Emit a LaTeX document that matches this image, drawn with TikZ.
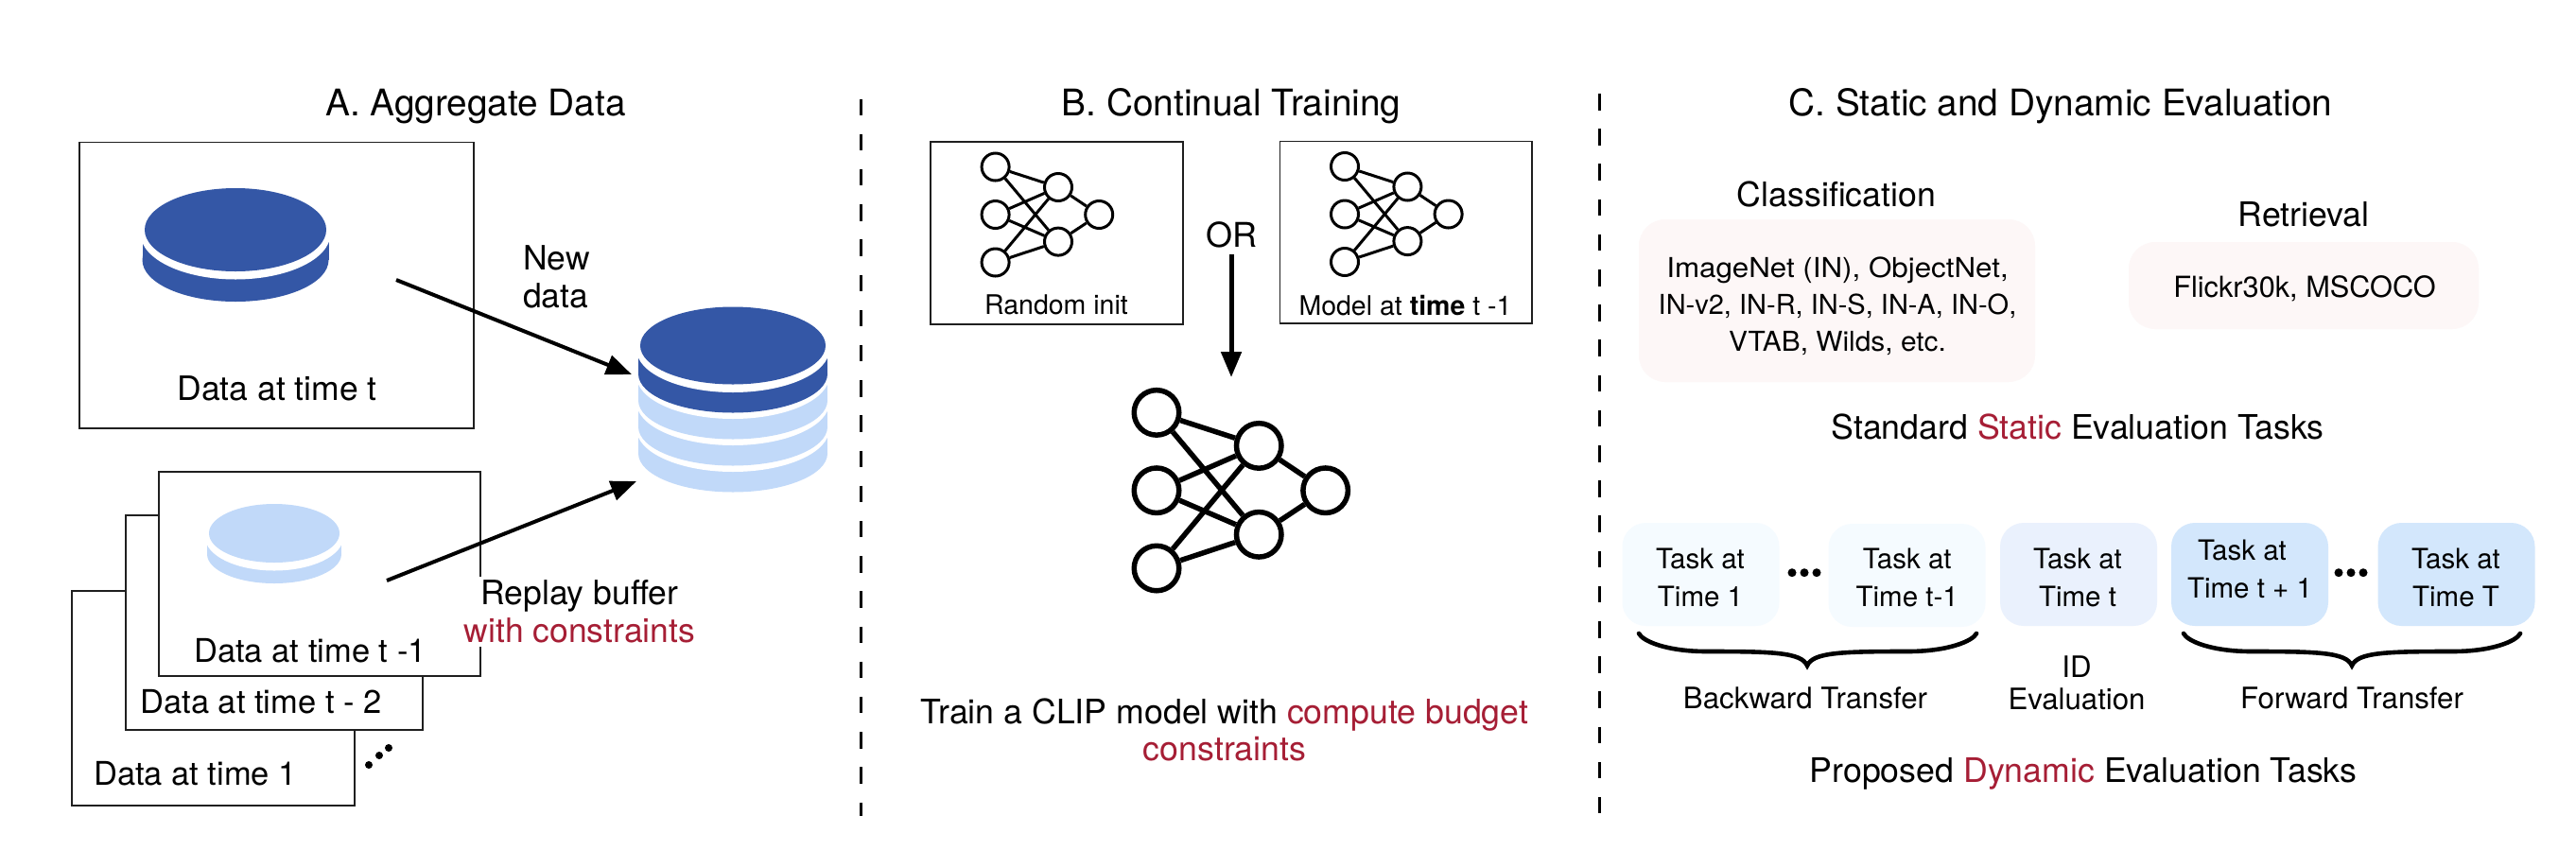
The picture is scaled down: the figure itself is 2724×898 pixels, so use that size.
\documentclass[tikz,border=0pt]{standalone}
\usepackage{fontspec}
\usepackage{graphicx}
\setmainfont{TeX Gyre Heros}
\usetikzlibrary{arrows.meta,shapes.geometric}
\definecolor{darkdisk}{HTML}{3457A6}
\definecolor{lightdisk}{HTML}{C1D9F9}
\definecolor{redtxt}{HTML}{A61E35}
\definecolor{pinkbox}{HTML}{FDF7F7}
\definecolor{taska}{HTML}{F5FBFF}
\definecolor{taskb}{HTML}{EAF1FD}
\definecolor{taskc}{HTML}{D3E7FC}
\newcommand{\fs}[2]{\fontsize{#1}{#2}\selectfont}
\tikzset{
  txt/.style={anchor=base,inner sep=0pt,outer sep=0pt},
  title/.style={txt,font=\fs{38.8}{44}},
  lab/.style={txt,font=\fs{35.5}{39.5},align=center},
  stacklab/.style={txt,font=\fs{34.5}{39.5}},
  head/.style={txt,font=\fs{35.7}{40}},
  small/.style={txt,font=\fs{28.5}{34}},
  data/.style={txt,font=\fs{29}{39},align=center},
  tasktxt/.style={txt,font=\fs{29.5}{40},align=center},
  under/.style={txt,font=\fs{31.2}{34},align=center},
  frame/.style={draw=black!88,line width=1.7pt,fill=white},
  pinkrect/.style={fill=pinkbox,rounded corners=28pt},
  taskbox/.style={rounded corners=25pt,minimum width=166pt,minimum height=109pt,inner sep=0pt},
  conn/.style={line width=4pt,-{Triangle[length=27pt,width=21pt]}},
  bigconn/.style={line width=5pt,-{Triangle[length=27pt,width=21pt]}},
  sep/.style={line width=3pt,dash pattern=on 17.5pt off 19.7pt},
  brace/.style={line width=4.6pt,line cap=round},
  dot/.style={circle,fill=black,inner sep=0pt,minimum size=#1},
}
% colour, cx, cy, rx top, ry, rx outer, band offset
\newcommand{\disk}[7]{
  \fill[#1] ({#2-#6},#3) rectangle ({#2+#6},{#3+#7});
  \fill[#1] (#2,{#3+#7}) ellipse [x radius=#6,y radius=#5];
  \fill[white] (#2,{#3+4}) ellipse [x radius=#6+2,y radius=#5+4.5];
  \fill[#1] (#2,#3) ellipse [x radius=#4,y radius=#5];
}
% prefix, x, y, scale, circle size, line width
\newcommand{\netw}[6]{
  \begin{scope}[every node/.style={circle,draw=black,line width=#6pt,fill=white,minimum size=#5pt,inner sep=0pt}]
    \node (#1a) at ({#2},{#3-50.5*#4}) {};
    \node (#1b) at ({#2},{#3}) {};
    \node (#1c) at ({#2},{#3+50.5*#4}) {};
    \node (#1d) at ({#2+66.4*#4},{#3-29*#4}) {};
    \node (#1e) at ({#2+66.4*#4},{#3+28.6*#4}) {};
    \node (#1f) at ({#2+109.6*#4},{#3}) {};
  \end{scope}
  \draw[line width=#6pt] (#1a)--(#1d) (#1a)--(#1e) (#1b)--(#1d) (#1b)--(#1e)
     (#1c)--(#1d) (#1c)--(#1e) (#1d)--(#1f) (#1e)--(#1f);
}
\begin{document}
\begin{tikzpicture}[x=1pt,y=-1pt]
\useasboundingbox (0,0) rectangle (2724,898);
\fill[white] (0,0) rectangle (2724,898);

% ---- Panel A
\node[title] (ta) at (503,122) {A. Aggregate Data};
\node[frame,minimum width=417pt,minimum height=302.5pt,inner sep=0pt] (boxt) at (292.5,301.75) {};
\disk{darkdisk}{249}{243}{96}{44}{98.5}{32}
\node[lab] (lt) at (293,423.5) {Data at time t};
\node[lab,anchor=base west,align=left] (new) at (553,325) {New\\data};

\node[frame,minimum width=299pt,minimum height=227pt,inner sep=0pt] (box1) at (225.5,738.5) {};
\node[frame,minimum width=314pt,minimum height=227pt,inner sep=0pt] (box2) at (290,658.5) {};
\node[frame,minimum width=340pt,minimum height=216pt,inner sep=0pt] (box3) at (338,607) {};
\disk{lightdisk}{290}{564}{69}{31}{71}{22}
\node[stacklab] (l3) at (328,700.7) {Data at time t -1};
\node[stacklab] (l2) at (276,754.6) {Data at time t - 2};
\node[stacklab] (l1) at (206.5,830) {Data at time 1};
\node[dot=8pt] (d1) at (390,809) {};
\node[dot=8pt] (d2) at (401,799) {};
\node[dot=8pt] (d3) at (411,791) {};

\disk{lightdisk}{775}{449.5}{98}{41}{100}{30}
\disk{lightdisk}{775}{421.5}{98}{41}{100}{30}
\disk{lightdisk}{775}{393.5}{98}{41}{100}{30}
\disk{darkdisk}{775}{365.5}{98}{41}{100}{30}

\node[lab,fill=white,inner ysep=4pt,inner xsep=0pt] (rep) at (613,679) {Replay buffer\\\textcolor{redtxt}{with constraints}};

\coordinate (a1s) at (419,296);
\coordinate (a1e) at (668,396);
\coordinate (a2s) at (409,614);
\coordinate (a2e) at (673,509);
\draw[conn] (a1s) -- (a1e);
\draw[conn] (a2s) -- (a2e);

% ---- separators
\coordinate (s1a) at (910,104.5);
\coordinate (s1b) at (910,863);
\coordinate (s2a) at (1691,99);
\coordinate (s2b) at (1691,860);
\draw[sep] (s1a) -- (s1b);
\draw[sep] (s2a) -- (s2b);

% ---- Panel B
\node[title] (tb) at (1302,122) {B. Continual Training};
\node[frame,minimum width=267pt,minimum height=193pt,inner sep=0pt] (br) at (1117.5,246.5) {};
\node[frame,minimum width=266.5pt,minimum height=192.5pt,inner sep=0pt] (bm) at (1486.75,245.75) {};
\netw{p}{1052.6}{227}{1}{29}{3}
\netw{q}{1422}{226.5}{1}{29}{3}
\node[small] (lr) at (1117,332) {Random init};
\node[small] (lm) at (1486,333) {Model at \textbf{time} t -1};
\node[txt,font=\fs{36}{40}] (or) at (1302,261) {OR};
\coordinate (a3s) at (1302,269);
\coordinate (a3e) at (1302,399);
\draw[bigconn] (a3s) -- (a3e);
\netw{n}{1223}{518.7}{1.63}{47.5}{5.5}
\node[lab,font=\fs{35.7}{39}] (tr) at (1295,804) {Train a CLIP model with \textcolor{redtxt}{compute budget}\\\textcolor{redtxt}{constraints}};

% ---- Panel C
\node[title] (tc) at (2179,122) {C. Static and Dynamic Evaluation};
\node[head] (cl) at (1942,218) {Classification};
\node[head] (re) at (2436,239) {Retrieval};
\node[pinkrect,minimum width=419pt,minimum height=172pt,inner sep=0pt] (bc) at (1942.5,318) {};
\node[pinkrect,minimum width=370pt,minimum height=92pt,inner sep=0pt] (bf) at (2436,302) {};
\node[data] (dc) at (1943,371) {\scalebox{1.08}[1]{ImageNet (IN), ObjectNet,}\\IN-v2, IN-R, IN-S, IN-A, IN-O,\\\scalebox{1.03}[1]{VTAB, Wilds, etc.}};
\node[txt,font=\fs{30.7}{36}] (df) at (2437,314) {Flickr30k, MSCOCO};
\node[head] (st) at (2197,464) {Standard \textcolor{redtxt}{Static} Evaluation Tasks};

\node[taskbox,fill=taska] (t1) at (1798.5,607.5) {};
\node[taskbox,fill=taska] (t2) at (2016.5,608.5) {};
\node[taskbox,fill=taskb] (t3) at (2198,607.5) {};
\node[taskbox,fill=taskc] (t4) at (2379,607.5) {};
\node[taskbox,fill=taskc] (t5) at (2597.5,607.5) {};
\node[tasktxt] (x1) at (1798,641) {Task at\\Time 1};
\node[tasktxt] (x2) at (2016.7,641.7) {Task at\\Time t-1};
\node[tasktxt] (x3) at (2197,641) {Task at\\Time t};
\node[txt,font=\fs{29.5}{40}] (x4a) at (2371,592.7) {Task at};
\node[txt,font=\fs{29.5}{40}] (x4b) at (2379,632.7) {Time t + 1};
\node[tasktxt] (x5) at (2597,641) {Task at\\Time T};
\foreach \nm/\px in {e1/1895,e2/1908,e3/1921,e4/2473,e5/2486,e6/2499}
  \node[dot=9pt] (\nm) at (\px,605.7) {};

\draw[brace] (1733,670) .. controls (1737,678) and (1762,689) .. (1805,689)
   .. controls (1875,689) and (1905,690) .. (1911,704)
   .. controls (1917,690) and (1947,689) .. (2017,689)
   .. controls (2060,689) and (2086,678) .. (2090,670);
\draw[brace] (2309,670) .. controls (2313,678) and (2338,689) .. (2381,689)
   .. controls (2451,689) and (2481,690) .. (2487,704)
   .. controls (2493,690) and (2523,689) .. (2593,689)
   .. controls (2636,689) and (2661,678) .. (2665,670);

\node[under] (u1) at (1909,749) {Backward Transfer};
\node[under] (u2) at (2196,750) {ID\\Evaluation};
\node[under] (u3) at (2487,749) {Forward Transfer};
\node[head] (pr) at (2203,827) {Proposed \textcolor{redtxt}{Dynamic} Evaluation Tasks};
\end{tikzpicture}
\end{document}
